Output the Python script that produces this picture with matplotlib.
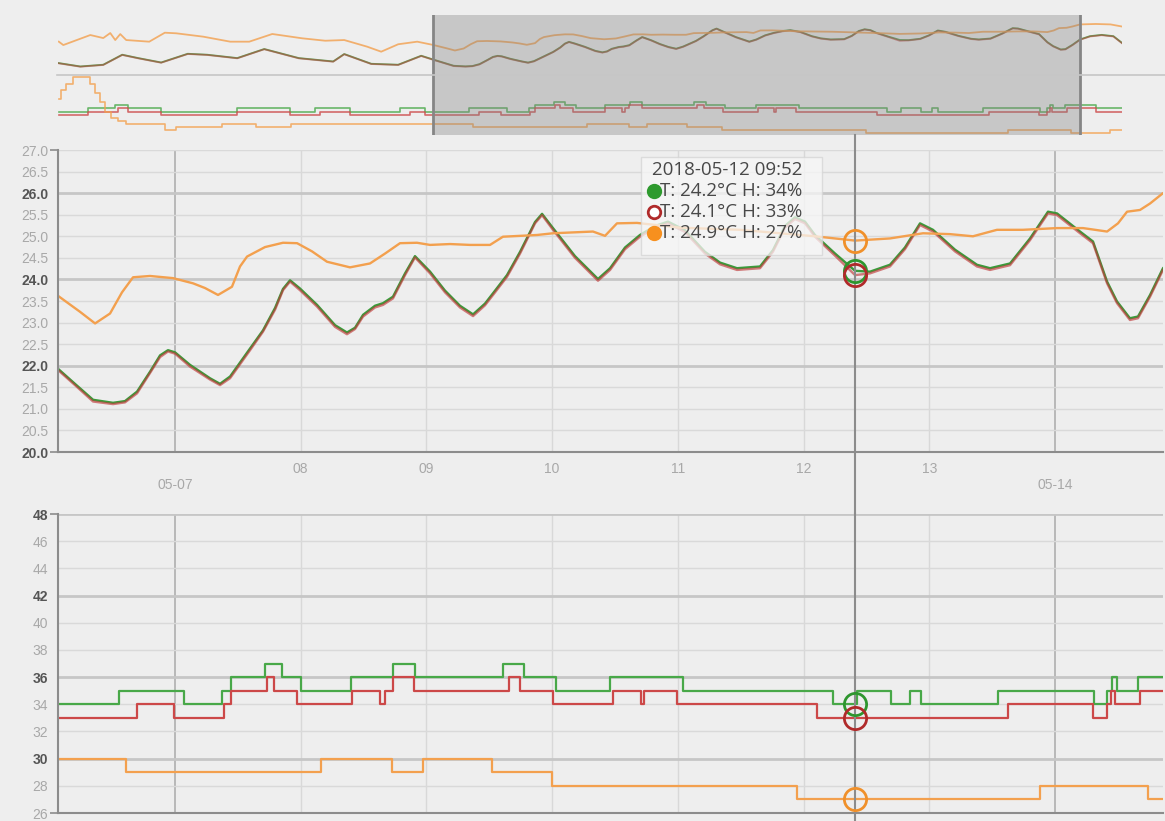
import datetime as dt

import matplotlib
matplotlib.use('Agg')
import matplotlib.pyplot as plt
import matplotlib.dates as mdates
import numpy as np
from matplotlib.lines import Line2D
from matplotlib.patches import Rectangle

plt.rcParams['font.family'] = ['Liberation Sans', 'DejaVu Sans']

BASE = dt.datetime(2018, 5, 7)

# ---- data: time in days since 2018-05-07 00:00 ----
temp_days = [
    -6.019, -5.727, -5.415, -5.157, -4.940, -4.628, -4.267, -4.002, -3.594, -3.227,
    -2.758, -2.290, -2.140, -1.773, -1.407, -1.094,
    -0.931, -0.796, -0.652, -0.493, -0.398, -0.302, -0.199, -0.119, -0.056, 0.000,
    0.119, 0.278, 0.358, 0.438, 0.597, 0.700, 0.796, 0.859, 0.915, 0.994,
    1.130, 1.273, 1.368, 1.432, 1.496, 1.591, 1.655, 1.734, 1.830, 1.909,
    2.029, 2.148, 2.267, 2.371, 2.466, 2.546, 2.641, 2.745, 2.864, 2.920,
    3.007, 3.182, 3.365, 3.461, 3.580, 3.699, 3.819, 3.922, 4.057, 4.216,
    4.336, 4.471, 4.654, 4.757, 4.853, 4.932, 5.012, 5.091, 5.251, 5.410,
    5.529, 5.688, 5.807, 5.927, 6.030, 6.205, 6.380, 6.484, 6.643, 6.802,
    6.945, 7.017, 7.200, 7.303, 7.415, 7.494, 7.597, 7.661, 7.757, 7.860,
    7.995, 8.154, 8.313, 8.433]
temp_red = [
    21.49, 21.10, 21.30, 22.46, 22.07, 21.56, 22.57, 22.46, 22.07, 23.12,
    22.07, 21.68, 22.54, 21.41, 21.30, 22.34,
    21.90, 21.55, 21.17, 21.11, 21.15, 21.36, 21.83, 22.20, 22.33, 22.28,
    21.98, 21.68, 21.55, 21.71, 22.36, 22.79, 23.30, 23.75, 23.95, 23.75,
    23.37, 22.90, 22.73, 22.85, 23.14, 23.35, 23.41, 23.56, 24.10, 24.51,
    24.14, 23.70, 23.35, 23.15, 23.40, 23.70, 24.06, 24.60, 25.30, 25.49,
    25.15, 24.50, 23.97, 24.22, 24.70, 24.99, 25.20, 25.30, 25.10, 24.60,
    24.35, 24.22, 24.26, 24.64, 25.20, 25.40, 25.30, 24.99, 24.55, 24.10,
    24.14, 24.30, 24.70, 25.26, 25.11, 24.65, 24.30, 24.22, 24.33, 24.91,
    25.53, 25.49, 25.07, 24.84, 23.91, 23.45, 23.06, 23.10, 23.60, 24.22,
    24.60, 24.75, 24.60, 23.80]
temp_green = [
    21.52, 21.13, 21.33, 22.49, 22.10, 21.59, 22.60, 22.49, 22.10, 23.15,
    22.10, 21.71, 22.57, 21.44, 21.33, 22.37,
    21.93, 21.58, 21.21, 21.14, 21.18, 21.40, 21.86, 22.24, 22.36, 22.31,
    22.02, 21.71, 21.58, 21.75, 22.40, 22.82, 23.34, 23.78, 23.98, 23.79,
    23.41, 22.94, 22.77, 22.88, 23.18, 23.39, 23.45, 23.60, 24.14, 24.54,
    24.18, 23.74, 23.39, 23.19, 23.44, 23.74, 24.10, 24.64, 25.33, 25.52,
    25.19, 24.54, 24.01, 24.26, 24.74, 25.03, 25.24, 25.34, 25.14, 24.64,
    24.39, 24.26, 24.30, 24.68, 25.24, 25.44, 25.34, 25.03, 24.60, 24.20,
    24.18, 24.34, 24.74, 25.30, 25.15, 24.69, 24.34, 24.26, 24.37, 24.95,
    25.57, 25.53, 25.11, 24.88, 23.95, 23.49, 23.10, 23.14, 23.64, 24.26,
    24.64, 24.79, 24.64, 23.84]

orange_days = [
    -6.019, -5.958, -5.591, -5.415, -5.320, -5.252, -5.184, -5.103, -4.790, -4.578,
    -4.423, -4.056, -3.689, -3.431, -3.118, -2.711, -2.398, -2.140, -1.828, -1.638,
    -1.407, -1.148,
    -0.931, -0.756, -0.636, -0.517, -0.422, -0.334, -0.199, -0.016, 0.143, 0.239,
    0.342, 0.453, 0.517, 0.573, 0.716, 0.859, 0.971, 1.090, 1.209, 1.392,
    1.551, 1.671, 1.790, 1.925, 2.029, 2.188, 2.347, 2.506, 2.609, 2.880,
    3.007, 3.325, 3.421, 3.516, 3.675, 4.018, 4.495, 4.893, 5.091, 5.410,
    5.688, 5.951, 6.165, 6.348, 6.539, 6.746, 7.017, 7.224, 7.415, 7.502,
    7.574, 7.677, 7.757, 7.860,
    8.075, 8.274, 8.433]
temp_orange = [
    24.00, 23.61, 24.77, 24.42, 25.00, 24.19, 24.88, 24.19, 24.00, 25.04,
    24.97, 24.58, 24.00, 24.00, 24.89, 24.39, 24.11, 24.19, 23.42, 22.84,
    23.70, 24.00,
    23.62, 23.25, 22.98, 23.21, 23.70, 24.05, 24.08, 24.03, 23.91, 23.80,
    23.64, 23.83, 24.30, 24.53, 24.75, 24.85, 24.84, 24.65, 24.41, 24.28,
    24.37, 24.60, 24.84, 24.85, 24.80, 24.82, 24.80, 24.80, 24.99, 25.03,
    25.07, 25.11, 25.01, 25.30, 25.31, 25.20, 25.15, 25.05, 25.00, 24.90,
    24.95, 25.07, 25.05, 25.00, 25.15, 25.15, 25.19, 25.19, 25.11, 25.30,
    25.57, 25.61, 25.76, 26.00,
    26.05, 26.00, 25.75]

# humidity is stepped: each value holds until the next time
hum_green_days = [
    -6.019, -5.619, -5.252, -5.075, -4.627, -3.594, -2.874, -2.534, -2.059, -1.379,
    -1.040, -0.442, 0.070, 0.372, 0.446, 0.713, 0.854, 1.005, 1.403, 1.737,
    1.912, 2.612, 2.779, 3.033, 3.462, 4.038, 5.235, 5.426, 5.696, 5.847,
    5.935, 6.547, 7.311, 7.415, 7.454, 7.494, 7.661, 8.070, 8.433]
hum_green = [
    34, 35, 36, 35, 34, 35, 34, 35, 34, 35,
    34, 35, 34, 35, 36, 37, 36, 35, 36, 37,
    36, 37, 36, 35, 36, 35, 34, 35, 34, 35,
    34, 35, 34, 35, 36, 35, 36, 35, 35]
hum_red_days = [
    -6.019, -5.619, -5.211, -5.075, -4.627, -3.594, -2.874, -2.466, -2.059, -1.243,
    -1.040, -0.302, -0.006, 0.388, 0.446, 0.730, 0.790, 0.971, 1.410, 1.634,
    1.674, 1.734, 1.905, 2.656, 2.745, 3.006, 3.482, 3.707, 3.731, 3.994,
    5.107, 6.627, 7.303, 7.415, 7.446, 7.478, 7.677, 8.070, 8.433]
hum_red = [
    33, 34, 35, 34, 33, 34, 33, 34, 33, 34,
    33, 34, 33, 34, 35, 36, 35, 34, 35, 34,
    35, 36, 35, 36, 35, 34, 35, 34, 35, 34,
    33, 34, 33, 34, 35, 34, 35, 34, 34]
hum_orange_days = [
    -6.019, -5.985, -5.917, -5.826, -5.591, -5.523, -5.462, -5.388, -5.306, -5.211,
    -5.102, -4.578, -4.423, -3.798, -3.336, -2.860, -0.391, 1.165, 1.728, 1.975,
    2.521, 3.000, 4.948, 6.881, 7.741, 8.266, 8.433]
hum_orange = [
    38, 41, 43, 45, 43, 40, 37, 34, 32, 31,
    30, 28, 29, 30, 29, 30, 29, 30, 29, 30,
    29, 28, 27, 28, 27, 28, 28]

nav_days = [-6.03, 8.43]
view_days = [-0.931, 7.860]

cross_time = dt.datetime(2018, 5, 12, 9, 52)
cross_temp = [24.2, 24.1, 24.9]
cross_hum = [34, 33, 27]

temp_ticks = list(np.arange(20.0, 27.01, 0.5))
temp_bold = [20.0, 22.0, 24.0, 26.0]
hum_ticks = list(range(26, 49, 2))
hum_bold = [30, 36, 42, 48]

BG = '#eeeeee'
GREEN = '#3a9a3a'
RED = '#c03a3a'
ORANGE = '#f3a04e'


def to_dates(days):
    return [BASE + dt.timedelta(days=d) for d in days]


W, H = 1165, 821


def box(l, t, r, b):
    return [l / W, 1 - b / H, (r - l) / W, (b - t) / H]


fig = plt.figure(figsize=(W / 100, H / 100), dpi=100, facecolor=BG)
nav_t = fig.add_axes(box(58, 15, 1122, 75))
nav_h = fig.add_axes(box(58, 75, 1122, 135))
ax_t = fig.add_axes(box(58, 150, 1163, 452))
ax_h = fig.add_axes(box(58, 514, 1163, 813))

t_temp = to_dates(temp_days)
t_orange = to_dates(orange_days)


def draw_series(ax, lw, alpha):
    ax.plot(t_temp, temp_green, color=GREEN, lw=lw, alpha=alpha)
    ax.plot(t_temp, temp_red, color=RED, lw=lw, alpha=0.65 * alpha)
    ax.plot(t_orange, temp_orange, color=ORANGE, lw=lw, alpha=alpha)


def draw_hum(ax, lw, alpha):
    ax.plot(to_dates(hum_green_days), hum_green, color='#48a848', lw=lw, alpha=alpha,
            drawstyle='steps-post')
    ax.plot(to_dates(hum_red_days), hum_red, color='#cc4848', lw=lw, alpha=alpha,
            drawstyle='steps-post')
    ax.plot(to_dates(hum_orange_days), hum_orange, color=ORANGE, lw=lw, alpha=alpha,
            drawstyle='steps-post')


# ---- range selector ----
draw_series(nav_t, 1.3, 0.8)
draw_hum(nav_h, 1.2, 0.8)
nav_t.set_ylim(20.14, 27.09)
nav_h.set_ylim(26.45, 45.8)
for nav in (nav_t, nav_h):
    nav.set_axis_off()
    nav.set_xlim(to_dates(nav_days))
    v0, v1 = to_dates(view_days)
    nav.axvspan(v0, v1, color='#7f7f7f', alpha=0.35, lw=0, zorder=5)
    nav.axvline(v0, color='#858585', lw=2, zorder=6)
    nav.axvline(v1, color='#858585', lw=2, zorder=6)
fig.add_artist(Line2D([57 / W, 1.0], [1 - 75 / H, 1 - 75 / H], color='#c6c6c6', lw=1.2))


def style_main(ax, ticks, bold, labels, show_x):
    ax.set_facecolor(BG)
    ax.spines['top'].set_visible(False)
    ax.spines['right'].set_visible(False)
    for s in ('left', 'bottom'):
        ax.spines[s].set_color('#8c8c8c')
        ax.spines[s].set_linewidth(1.5)
    ax.set_xlim(to_dates(view_days))
    ax.set_ylim(ticks[0], ticks[-1])
    ax.set_yticks(ticks)
    ax.set_yticklabels(labels)
    ax.xaxis.set_major_locator(mdates.DayLocator(bymonthday=[7, 14]))
    ax.xaxis.set_major_formatter(mdates.DateFormatter('%m-%d'))
    ax.xaxis.set_minor_locator(mdates.DayLocator())
    ax.xaxis.set_minor_formatter(mdates.DateFormatter('%d'))
    ax.tick_params(axis='both', which='both', length=0, labelsize=10, labelcolor='#a8a8a8')
    ax.tick_params(axis='y', pad=7)
    ax.tick_params(axis='x', which='major', pad=19)
    ax.tick_params(axis='x', which='minor', pad=7)
    if not show_x:
        ax.tick_params(axis='x', which='both', labelbottom=False)
    ax.grid(axis='x', which='major', color='#b4b4b4', lw=1.3)
    ax.grid(axis='x', which='minor', color='#d8d8d8', lw=1)
    ax.grid(axis='y', which='major', color='#d9d9d9', lw=1)
    for v, gl, lab in zip(ticks, ax.get_ygridlines(), ax.get_yticklabels()):
        if v in bold:
            gl.set_color('#c6c6c6')
            gl.set_linewidth(2)
            lab.set_color('#555555')
            lab.set_fontweight('bold')
    # short tick marks only at the two ends of the value axis
    ends = ax.yaxis.get_major_ticks()
    for tk in (ends[0], ends[-1]):
        tk.tick1line.set_markersize(6)
        tk.tick1line.set_markeredgecolor('#8c8c8c')
        tk.tick1line.set_markeredgewidth(1.2)
    ax.set_axisbelow(True)


# ---- temperature ----
draw_series(ax_t, 1.7, 1.0)
style_main(ax_t, temp_ticks, temp_bold, ['%.1f' % v for v in temp_ticks], True)

# ---- humidity ----
draw_hum(ax_h, 1.6, 1.0)
style_main(ax_h, hum_ticks, hum_bold, [str(v) for v in hum_ticks], False)

# ---- crosshair ----
ax_t.axvline(cross_time, ymin=-0.205, ymax=1.05, clip_on=False, color='#8c8c8c', lw=1.5, zorder=4)
ax_h.axvline(cross_time, ymin=-0.03, ymax=1.0, clip_on=False, color='#8c8c8c', lw=1.5, zorder=4)
circle_colors = ['#2e962e', '#b02a2a', '#f0902a']
for c, tv, hv in zip(circle_colors, cross_temp, cross_hum):
    ax_t.plot([cross_time], [tv], 'o', ms=16, mfc='none', mec=c, mew=2, zorder=8, clip_on=False)
    ax_h.plot([cross_time], [hv], 'o', ms=16, mfc='none', mec=c, mew=2, zorder=8, clip_on=False)

# ---- tooltip ----
fig.add_artist(Rectangle((641 / W, 1 - 255 / H), 181 / W, 98 / H, transform=fig.transFigure,
                         fc='#f7f7f7', ec='#d4d4d4', lw=1, alpha=0.75, zorder=20))
tip_font = ['Open Sans', 'DejaVu Sans']
fig.text(652 / W, 1 - 170 / H, cross_time.strftime('%Y-%m-%d %H:%M'), ha='left', va='center',
         fontsize=13.5, color='#484848', family=tip_font, zorder=21)
dot_fill = ['#2e9a2e', 'white', '#f7901e']
dot_edge = ['#2e9a2e', '#b02a2a', '#f7901e']
for i, (tv, hv) in enumerate(zip(cross_temp, cross_hum)):
    y = 1 - (191 + 21 * i) / H
    fig.add_artist(Line2D([654 / W], [y], transform=fig.transFigure, ls='none', marker='o',
                          ms=9, mfc=dot_fill[i], mec=dot_edge[i], mew=2, zorder=21))
    fig.text(660 / W, y, 'T: %.1f°C H: %d%%' % (tv, hv), ha='left', va='center',
             fontsize=13.5, color='#484848', family=tip_font, zorder=21)

fig.savefig('out.png', dpi=100, facecolor=BG)
